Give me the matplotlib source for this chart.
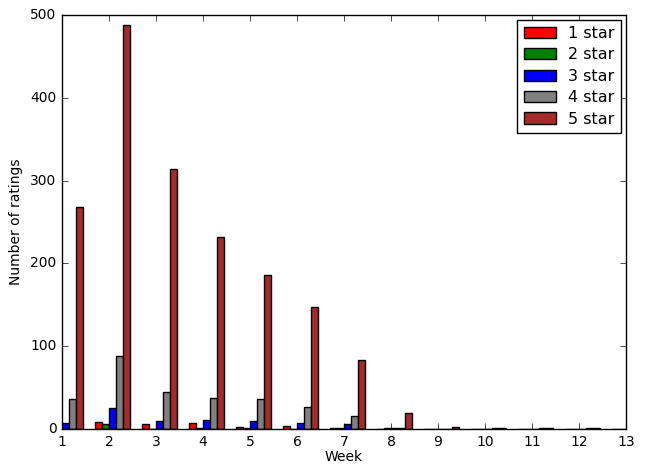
import matplotlib
matplotlib.use('Agg')
import matplotlib.pyplot as plt
import numpy as np

plt.style.use('classic')
plt.rcParams['font.size'] = 10

weeks = [1, 2, 3, 4, 5, 6, 7, 8, 9, 10, 11, 12, 13]
star1 = [0, 9, 6, 8, 3, 4, 1, 0, 0, 0, 0, 0, 0]
star2 = [0, 6, 0, 1, 1, 0, 1, 1, 0, 0, 0, 0, 0]
star3 = [8, 26, 10, 11, 10, 7, 6, 1, 0, 0, 0, 0, 0]
star4 = [36, 88, 45, 38, 37, 27, 16, 1, 0, 1, 1, 1, 1]
star5 = [268, 488, 314, 232, 186, 147, 83, 19, 3, 2, 1, 1, 0]

series = [star1, star2, star3, star4, star5]
colors = ['red', 'green', 'blue', 'gray', 'brown']
labels = ['1 star', '2 star', '3 star', '4 star', '5 star']

fig, ax = plt.subplots(figsize=(6.48, 4.66), dpi=100)
fig.subplots_adjust(left=0.096, right=0.966, top=0.968, bottom=0.079)
w = 0.15
x = np.array(weeks) - 2 * w
for i, (vals, c, lab) in enumerate(zip(series, colors, labels)):
    ax.bar(x + i * w, vals, w, color=c, label=lab, align='edge')
ax.set_xlim(1, 13)
ax.set_ylim(0, 500)
ax.set_xticks(range(1, 14))
ax.set_xlabel('Week', labelpad=1)
ax.set_ylabel('Number of ratings')
ax.legend(loc='upper right', fontsize=11.5, borderaxespad=0.3, labelspacing=0.4)
fig.savefig('out.png', dpi=100)
